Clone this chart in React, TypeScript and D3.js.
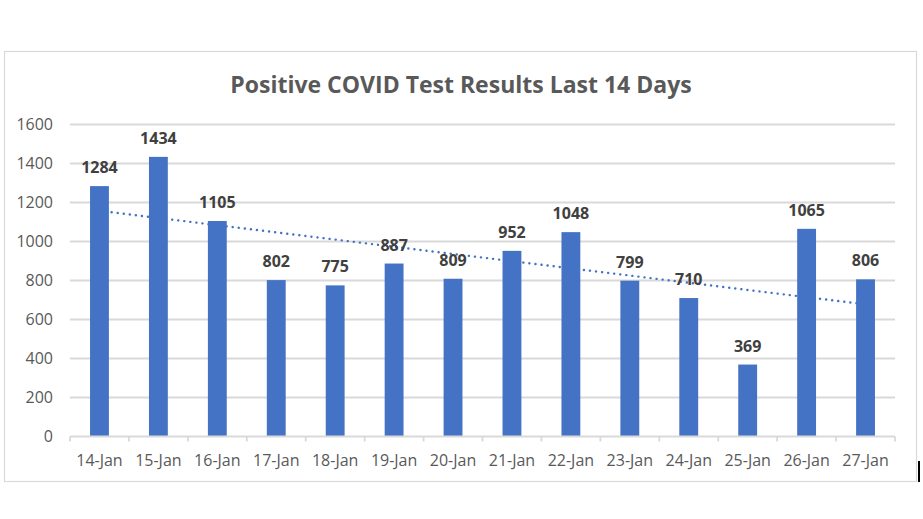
import { useMemo } from 'react';
import * as d3 from 'd3';

const days = ['14-Jan', '15-Jan', '16-Jan', '17-Jan', '18-Jan', '19-Jan', '20-Jan', '21-Jan', '22-Jan', '23-Jan', '24-Jan', '25-Jan', '26-Jan', '27-Jan'];
const positives = [1284, 1434, 1105, 802, 775, 887, 809, 952, 1048, 799, 710, 369, 1065, 806];
const yTicks = [0, 200, 400, 600, 800, 1000, 1200, 1400, 1600];

const W = 923;
const H = 519;
const FONT = '"Open Sans", "Noto Sans", sans-serif';

export default function App() {
  const margin = { top: 124.5, right: 28, bottom: 82.5, left: 70 };

  const x = d3
    .scaleBand<string>()
    .domain(days)
    .range([margin.left, W - margin.right])
    .paddingInner(0.68)
    .paddingOuter(0.34);

  const y = d3
    .scaleLinear()
    .domain([0, 1600])
    .range([H - margin.bottom, margin.top]);

  // linear trendline, least squares like Excel
  const trend = useMemo(() => {
    const xs = positives.map((_, i) => i + 1);
    const mx = d3.mean(xs)!;
    const my = d3.mean(positives)!;
    const slope =
      d3.sum(xs, (v, i) => (v - mx) * (positives[i] - my)) / d3.sum(xs, (v) => (v - mx) ** 2);
    const icpt = my - slope * mx;
    return days.map((d, i) => [x(d)! + x.bandwidth() / 2, y(icpt + slope * (i + 1))] as [number, number]);
  }, []);

  const line = d3.line();
  const step = x.step();
  const x0 = margin.left;
  const baseY = y(0);

  return (
    <svg width={W} height={H} style={{ position: 'absolute', left: 0, top: 0, background: '#fff' }}>
      <rect x={4.5} y={51.5} width={912} height={430} fill="#fff" stroke="#d9d9d9" strokeWidth={1.2} />
      <line x1={919} x2={919} y1={461} y2={482} stroke="#000" strokeWidth={2} />

      <text
        x={461}
        y={93}
        textAnchor="middle"
        fontFamily={FONT}
        fontSize={23}
        fontWeight={700}
        fill="#595959"
      >
        Positive COVID Test Results Last 14 Days
      </text>

      {/* gridlines */}
      {yTicks.map((t) => (
        <g key={t}>
          {t > 0 && (
            <line x1={margin.left} x2={W - margin.right} y1={y(t)} y2={y(t)} stroke="#d9d9d9" strokeWidth={1.8} />
          )}
          <text
            x={53}
            y={y(t)}
            dy="0.35em"
            textAnchor="end"
            fontFamily={FONT}
            fontSize={16}
            fill="#595959"
          >
            {t}
          </text>
        </g>
      ))}

      {/* trendline (behind bars) */}
      <path
        d={line(trend) || ''}
        fill="none"
        stroke="#4472c4"
        strokeWidth={2.4}
        strokeLinecap="round"
        strokeDasharray="0.1 6"
      />

      {days.map((d, i) => (
        <g key={d}>
          <rect x={x(d)} y={y(positives[i])} width={x.bandwidth()} height={baseY - y(positives[i])} fill="#4472c4" />
          <text
            x={x(d)! + x.bandwidth() / 2}
            y={y(positives[i]) - 13}
            textAnchor="middle"
            fontFamily={FONT}
            fontSize={16}
            fontWeight={700}
            fill="#404040"
          >
            {positives[i]}
          </text>
          <text
            x={x(d)! + x.bandwidth() / 2}
            y={460}
            dy="0.35em"
            textAnchor="middle"
            fontFamily={FONT}
            fontSize={16}
            fill="#595959"
          >
            {d}
          </text>
        </g>
      ))}

      {/* x axis with ticks between categories */}
      <line x1={margin.left} x2={W - margin.right} y1={baseY} y2={baseY} stroke="#d9d9d9" strokeWidth={1.8} />
      {d3.range(days.length + 1).map((k) => (
        <line
          key={k}
          x1={x0 + k * step}
          x2={x0 + k * step}
          y1={baseY}
          y2={baseY + 5}
          stroke="#d9d9d9"
          strokeWidth={1.8}
        />
      ))}
    </svg>
  );
}
